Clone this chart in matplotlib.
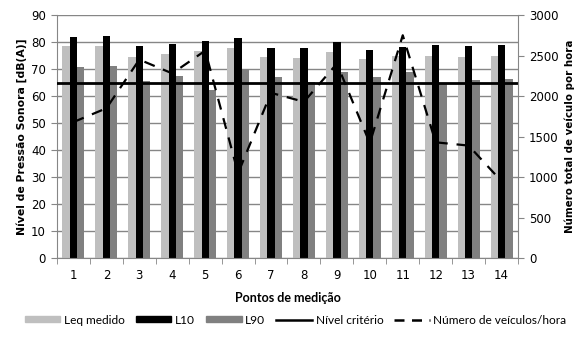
import matplotlib
matplotlib.use("Agg")
import matplotlib.pyplot as plt
import numpy as np
from matplotlib.patches import Patch
from matplotlib.lines import Line2D

pontos = [str(i) for i in range(1, 15)]
leq = [78.5, 78.5, 74.5, 75.6, 76.7, 77.8, 74.5, 74.2, 76.3, 73.7, 74.8, 74.8, 74.5, 74.8]
l10 = [82.0, 82.4, 78.7, 79.4, 80.5, 81.6, 77.8, 77.7, 79.9, 77.1, 78.2, 78.9, 78.5, 78.9]
l90 = [70.9, 71.3, 65.6, 67.4, 62.4, 70.0, 67.1, 65.3, 68.9, 67.1, 68.9, 64.6, 66.0, 66.3]
veiculos = [1680, 1850, 2450, 2280, 2560, 1050, 2040, 1930, 2400, 1420, 2750, 1430, 1390, 950]
criterio = 65

fig = plt.figure(figsize=(5.83, 3.42), dpi=100)
ax = fig.add_axes([57/583, 1 - 258.3/342, (518 - 57)/583, (258.3 - 15)/342])
ax2 = ax.twinx()

x = np.arange(len(pontos))
w = 0.222
ax.bar(x - w, leq, w, color="#BFBFBF", zorder=2, label="Leq medido")
ax.bar(x, l10, w, color="#000000", zorder=2, label="L10")
ax.bar(x + w, l90, w, color="#808080", zorder=2, label="L90")
ax.axhline(criterio, color="black", lw=2, zorder=3)
ax2.plot(x, veiculos, color="black", lw=1.6, dashes=(5, 4), zorder=4)

ax.set_xlim(-0.5, len(pontos) - 0.5)
ax.set_ylim(0, 90)
ax.set_yticks(np.arange(0, 91, 10))
ax2.set_ylim(0, 3000)
ax2.set_yticks(np.arange(0, 3001, 500))
ax2.set_zorder(ax.get_zorder() + 1)
ax2.patch.set_visible(False)

ax.yaxis.grid(True, color="#868686", lw=1, zorder=0)
ax.set_axisbelow(True)
ax.set_xticks(x)
ax.set_xticklabels(pontos)
ax.set_xticks(np.arange(-0.5, len(pontos), 1), minor=True)
ax.tick_params(axis="x", which="major", length=0, pad=8, labelsize=8.5)
ax.tick_params(axis="x", which="minor", length=4, color="#868686", direction="out")
ax.tick_params(axis="y", length=4, color="#868686", labelsize=8.5, pad=4)
ax2.tick_params(axis="y", length=4, color="#868686", labelsize=8.5, pad=4)

for a in (ax, ax2):
    a.spines["top"].set_visible(False)
    for s in ("left", "right", "bottom"):
        a.spines[s].set_color("#868686")
ax.spines["right"].set_visible(False)
ax2.spines["left"].set_visible(False)
ax2.spines["bottom"].set_visible(False)

ax.set_ylabel("Nível de Pressão Sonora [dB(A)]", fontsize=7.8, fontweight="bold", labelpad=3)
ax2.set_ylabel("Número total de veículo por hora", fontsize=7.4, fontweight="bold", labelpad=4)
ax.set_xlabel("Pontos de medição", fontsize=9, fontweight="bold", family="Lato", labelpad=7)

handles = [
    Patch(color="#BFBFBF"), Patch(color="#000000"), Patch(color="#808080"),
    Line2D([], [], color="black", lw=1.8),
    Line2D([], [], color="black", lw=1.8, dashes=(4, 3)),
]
labels = ["Leq medido", "L10", "L90", "Nível critério", "Número de veículos/hora"]
fig.legend(handles, labels, loc="center", bbox_to_anchor=(0.507, 1 - 320/342), ncol=5,
           frameon=False, prop={"family": "Lato", "size": 8.6}, handlelength=3.0,
           handleheight=0.4, handletextpad=0.3, columnspacing=0.9)

fig.savefig("out.png", dpi=100)
